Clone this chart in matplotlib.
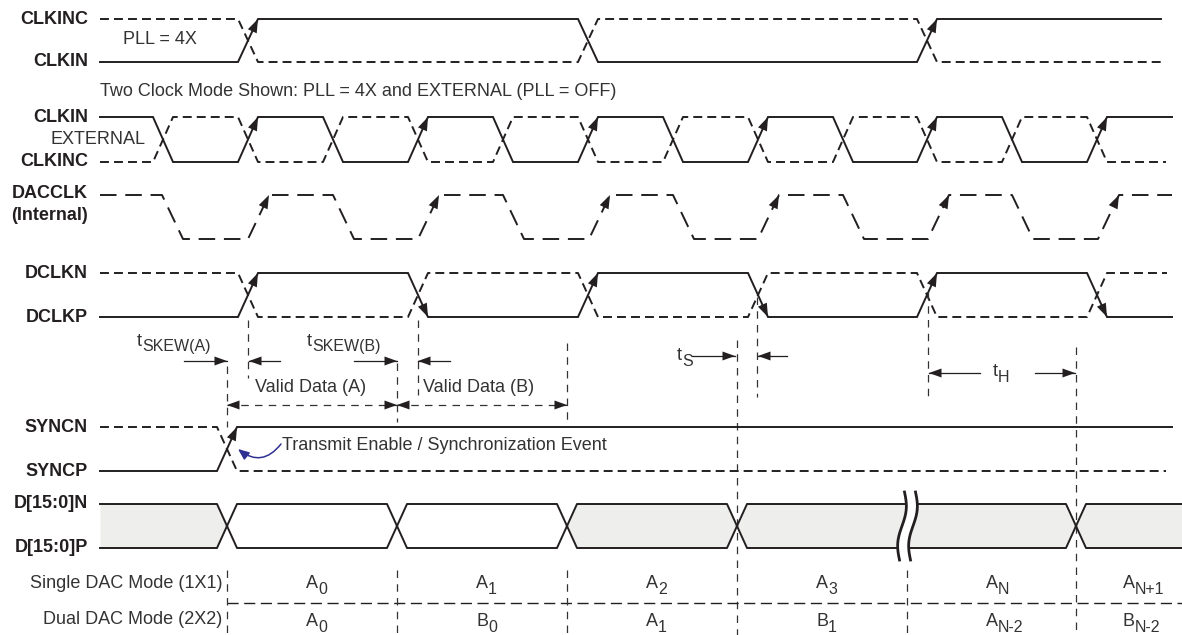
import numpy as np
import matplotlib.pyplot as plt

plt.rcParams['font.family'] = ['Liberation Sans', 'DejaVu Sans']

# ---- timing data: transition positions along the time axis ----
pll_edges = [248, 588, 927]
ext_edges = [163, 248, 333, 418, 503, 588, 673, 758, 843, 927, 1012, 1097]
dacclk_edges = [162, 248, 333, 418, 503, 589, 673, 758, 843, 928, 1012, 1098]
dclk_edges = [248, 418, 588, 758, 927, 1097]
sync_edges = [227]
data_edges = [227, 397, 567, 737, 1076]
data_shaded = [True, False, False, True, True, True]
data_break = 906

mode_bounds = [227, 397, 567, 737, 907, 1076, 1182]
single_main = ['A', 'A', 'A', 'A', 'A', 'A']
single_sub = ['0', '1', '2', '3', 'N', 'N+1']
dual_main = ['A', 'B', 'A', 'B', 'A', 'B']
dual_sub = ['0', '0', '1', '1', 'N-2', 'N-2']

BLK = '#231f20'
GRY = '#333333'
LW = 1.4
DASH = (0, (4.6, 2.6))
FS = 13.0
SFS = 11.5

fig = plt.figure(figsize=(11.82, 6.35), dpi=100, facecolor='w')
ax = fig.add_axes([0, 0, 1, 1])
ax.set_xlim(0, 1182)
ax.set_ylim(635, 0)
ax.axis('off')
renderer = fig.canvas.get_renderer()


def wave(edges, level0, y_hi, y_lo, x0, x1, lead=10, trail=10):
    ys = {1: y_hi, 0: y_lo}
    xs, yv, segs = [x0], [ys[level0]], []
    lev = level0
    for e in edges:
        xs += [e - lead, e + trail]
        yv += [ys[lev], ys[1 - lev]]
        segs.append((e - lead, ys[lev], e + trail, ys[1 - lev], 1 - lev))
        lev = 1 - lev
    xs.append(x1)
    yv.append(ys[lev])
    return xs, yv, segs


def head(x0, y0, x1, y1, color=BLK, size=13):
    ax.annotate('', xy=(x1, y1), xytext=(x0, y0),
                arrowprops=dict(arrowstyle='-|>,head_length=0.75,head_width=0.27',
                                mutation_scale=size, lw=0, color=color,
                                shrinkA=0, shrinkB=0))


def arrow(x0, y0, x1, y1):
    ax.plot([x0, x1], [y0, y1], color=BLK, lw=0.9)
    head(x0, y0, x1, y1, size=12)


def vdash(x, y0, y1):
    ax.plot([x, x], [y0, y1], color=GRY, lw=0.9, linestyle=(0, (6, 5)))


def sub_text(x, y, main, sub, ha='left', color=GRY, dy=6):
    t = ax.text(x, y, main, ha=ha, va='center', fontsize=FS, color=color)
    bb = t.get_window_extent(renderer)
    ax.text(bb.x1, y + dy, sub, ha='left', va='center', fontsize=SFS, color=color)


def clock_pair(edges, level0, y_hi, y_lo, x1_solid, x1_dash, arrows='rise'):
    xs, ys, segs = wave(edges, level0, y_hi, y_lo, 100, x1_solid)
    ax.plot(xs, ys, color=BLK, lw=LW, solid_joinstyle='miter')
    xd, yd, _ = wave(edges, 1 - level0, y_hi, y_lo, 100, x1_dash)
    ax.plot(xd, yd, color=BLK, lw=LW, linestyle=DASH)
    for xa, ya, xb, yb, new in segs:
        if arrows == 'all' or new == 1:
            head(xa, ya, xb, yb)


# ---- signal labels ----
labels = [('CLKINC', 19), ('CLKIN', 62), ('CLKIN', 117), ('CLKINC', 162),
          ('DACCLK', 194), ('(Internal)', 215), ('DCLKN', 273), ('DCLKP', 317),
          ('SYNCN', 427), ('SYNCP', 471), ('D[15:0]N', 504), ('D[15:0]P', 548)]
for name, y in labels:
    ax.text(88, y, name, ha='right', va='center', fontsize=FS,
            fontweight='bold', color=BLK)

# ---- clocks ----
clock_pair(pll_edges, 0, 19, 62, 1161, 1161)
ax.text(123, 39, 'PLL = 4X', ha='left', va='center', fontsize=FS, color=GRY)
ax.text(100, 91, 'Two Clock Mode Shown: PLL = 4X and EXTERNAL (PLL = OFF)',
        ha='left', va='center', fontsize=FS, color=GRY)

clock_pair(ext_edges, 1, 117, 162, 1172, 1166)
ax.text(50, 140, 'EXTERNAL', ha='left', va='center', fontsize=FS, color=GRY)

xs, ys, segs = wave(dacclk_edges, 1, 195, 239, 100, 1172, lead=0, trail=21)
ax.plot(xs, ys, color=BLK, lw=LW, linestyle=(0, (8.5, 4.5)))
for xa, ya, xb, yb, new in segs:
    if new == 1:
        head(xa, ya, xb, yb)

clock_pair(dclk_edges, 0, 273, 317, 1172, 1167, arrows='all')

# ---- timing annotations ----
for x, y0, y1 in [(248, 320, 378), (227, 366, 427), (397, 363, 422),
                  (418, 320, 395), (567, 343, 422), (737, 340, 635),
                  (757, 297, 397), (928, 292, 397), (1076, 347, 635)]:
    vdash(x, y0, y1)

sub_text(137, 341, 't', 'SKEW(A)')
sub_text(307, 341, 't', 'SKEW(B)')
arrow(184, 361, 227, 361)
arrow(280, 361, 249, 361)
arrow(354, 361, 397, 361)
arrow(450, 361, 418, 361)

ax.text(255, 387, 'Valid Data (A)', ha='left', va='center', fontsize=FS, color=GRY)
ax.text(423, 387, 'Valid Data (B)', ha='left', va='center', fontsize=FS, color=GRY)
for xa, xb in [(227, 397), (397, 567)]:
    ax.plot([xa, xb], [405, 405], color=GRY, lw=0.9, linestyle=(0, (6, 5)))
    head(xa + 20, 405, xa, 405, size=12)
    head(xb - 20, 405, xb, 405, size=12)

sub_text(677, 355, 't', 'S')
arrow(692, 356, 735, 356)
arrow(787, 356, 758, 356)

sub_text(993, 371, 't', 'H')
arrow(980, 373, 929, 373)
arrow(1035, 373, 1075, 373)

# ---- sync ----
clock_pair(sync_edges, 0, 427, 471, 1172, 1166)
ax.text(282, 446, 'Transmit Enable / Synchronization Event', ha='left',
        va='center', fontsize=FS, color=GRY)
ax.annotate('', xy=(238, 449), xytext=(281, 444),
            arrowprops=dict(arrowstyle='-|>,head_length=0.6,head_width=0.25',
                            connectionstyle='arc3,rad=-0.5', color='#2e3192',
                            lw=1.1, shrinkA=0, shrinkB=0, mutation_scale=11))

# ---- data bus ----
top, bot = 504, 548
mid = (top + bot) / 2
bounds = [100] + data_edges + [1182]
for i in range(len(bounds) - 1):
    a, b = bounds[i], bounds[i + 1]
    px, pt, pb = [], [], []
    if a in data_edges:
        px += [a, a + 10]
        pt += [mid, top]
        pb += [mid, bot]
    else:
        px += [a]
        pt += [top]
        pb += [bot]
    if b in data_edges:
        px += [b - 10, b]
        pt += [top, mid]
        pb += [bot, mid]
    else:
        px += [b]
        pt += [top]
        pb += [bot]
    fc = '#eeefed' if data_shaded[i] else 'white'
    ax.fill_between(px, pt, pb, color=fc, lw=0)
    ax.plot(px, pt, color=BLK, lw=LW)
    ax.plot(px, pb, color=BLK, lw=LW)

# break symbol
t = np.linspace(0, 1, 60)
by = 492 + 68 * t
bl = data_break - 4 + 3 * np.sin(2 * np.pi * t) + 5 * (0.5 - t)
br = bl + 11
ax.fill_betweenx(by, bl, br, color='white', lw=0, zorder=3)
ax.plot(bl, by, color=BLK, lw=2, zorder=4)
ax.plot(br, by, color=BLK, lw=2, zorder=4)

# ---- mode table ----
ax.text(222, 583, 'Single DAC Mode (1X1)', ha='right', va='center', fontsize=FS, color=GRY)
ax.text(222, 620, 'Dual DAC Mode (2X2)', ha='right', va='center', fontsize=FS, color=GRY)
ax.plot([227, 1182], [603, 603], color=BLK, lw=1.0, linestyle=(0, (8, 4)))
for x in [227, 397, 567, 907]:
    vdash(x, 570, 635)
for i in range(len(mode_bounds) - 1):
    xc = (mode_bounds[i] + mode_bounds[i + 1]) / 2
    sub_text(xc, 584, single_main[i], single_sub[i], ha='center')
    sub_text(xc, 621, dual_main[i], dual_sub[i], ha='center')

fig.savefig('out.png', dpi=100, facecolor='w')
